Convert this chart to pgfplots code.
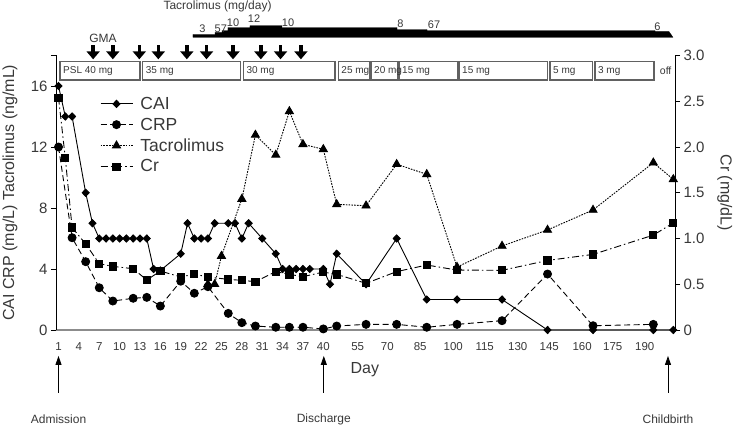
\documentclass[border=0pt]{standalone}
\usepackage{pgfplots}
\pgfplotsset{compat=1.18}
\usepackage{pgfplotstable}
\usetikzlibrary{arrows.meta}
\usepackage{fontspec}
\setmainfont{Liberation Sans}
\definecolor{txt}{gray}{0.22}
\definecolor{boxc}{gray}{0.38}

% u = plotting position (day-1 up to day 40, compressed afterwards), day, value
\pgfplotstableread{
u day v
0 1 16
1 2 14
2 3 14
4 5 9
5 6 7
6 7 6
7 8 6
8 9 6
9 10 6
10 11 6
11 12 6
12 13 6
13 14 6
14 15 4
15 16 3.9
18 19 5
19 20 7
20 21 6
21 22 6
22 23 6
23 24 7
25 26 7
26 27 7
27 28 6
28 29 7
30 31 6
32 33 5
33 34 4
34 35 4
35 36 4
36 37 4
37 38 4
39 40 4
39.98 43 3
40.97 46 5
45.29 60 3
49.80 74 6
54.23 87 2
58.69 101 2
65.32 122 2
72.02 143 0
78.72 164 0
87.60 191 0
90.54 201 0
}\caiTable

\pgfplotstableread{
u day v
0 1 12
2 3 6.05
4 5 4.48
6 7 2.77
8 9 1.9
11 12 2.08
13 14 2.14
15 16 1.57
18 19 3.2
20 21 2.41
22 23 2.84
25 26 1.09
27 28 0.48
29 30 0.26
32 33 0.18
34 35 0.18
36 37 0.18
39 40 0.07
40.97 46 0.26
45.29 60 0.37
49.80 74 0.37
54.23 87 0.18
58.69 101 0.37
65.32 122 0.61
72.02 143 3.67
78.72 164 0.28
87.60 191 0.37
}\crpTable

\pgfplotstableread{
u day v
22 23 3.0
23 24 3.0
24 25 4.85
27 28 8.59
29 30 12.79
32 33 11.48
34 35 14.34
36 37 12.18
39 40 11.85
40.97 46 8.24
45.29 60 8.15
49.80 74 10.87
54.23 87 10.21
58.69 101 4.13
65.32 122 5.51
72.02 143 6.56
78.72 164 7.87
87.60 191 10.97
90.54 201 9.88
}\tacTable

\pgfplotstableread{
u day v
0 1 2.54
1 2 1.88
2 3 1.12
4 5 0.94
6 7 0.725
8 9 0.695
11 12 0.67
13 14 0.546
15 16 0.644
18 19 0.58
20 21 0.61
22 23 0.58
25 26 0.553
27 28 0.543
29 30 0.528
32 33 0.638
34 35 0.608
36 37 0.583
39 40 0.633
40.97 46 0.608
45.29 60 0.51
49.80 74 0.638
54.23 87 0.71
58.69 101 0.655
65.32 122 0.652
72.02 143 0.76
78.72 164 0.826
87.60 191 1.037
90.54 201 1.17
}\crTable

\pgfplotsset{
  caistyle/.style={black, line width=0.9pt, solid, mark=diamond*, mark size=3.6pt, mark options={solid, fill=black, xscale=1.3}},
  crpstyle/.style={black, line width=0.9pt, dash pattern=on 6pt off 3.5pt, mark=*, mark size=4pt, mark options={solid, fill=black}},
  tacstyle/.style={black, line width=0.9pt, dash pattern=on 1.6pt off 1.2pt, mark=triangle*, mark size=4.6pt, mark options={solid, fill=black}},
  crstyle/.style={black, line width=0.9pt, dash pattern=on 7pt off 3pt on 1.5pt off 3pt, mark=square*, mark size=3.6pt, mark options={solid, fill=black}},
  dayx/.style={scale only axis, x=6.79pt, xmin=-0.37, xmax=90.8},
}

\begin{document}
\begin{tikzpicture}
\path[use as bounding box] (-56pt,-100pt) rectangle (679pt,330pt);

% ---------- main axis (left scale) ----------
\begin{axis}[
  dayx, at={(0pt,0pt)}, anchor=south west,
  y=15.25pt, ymin=0, ymax=18,
  axis x line=bottom, axis y line=left, separate axis lines,
  axis line style={-},
  x axis line style={-, draw=black!45, line width=2.2pt},
  y axis line style={-, draw=black, line width=0.8pt},
  xtick={0,3,6,9,12,15,18,21,24,27,30,33,36,39,44.06,48.42,53.27,58.13,62.77,67.63,72.27,77.12,81.63,86.33},
  xticklabels={1,4,7,10,13,16,19,22,25,28,31,34,37,40,55,70,85,100,115,130,145,160,175,190},
  xtick style={draw=none},
  xticklabel style={font=\fontsize{11.5}{13}\selectfont, text=txt, yshift=-4pt},
  ytick={0,4,8,12,16}, yticklabels={0,4,8,12,16},
  extra y ticks={18}, extra y tick labels={},
  ytick pos=left, tick align=outside, major tick length=5pt,
  ytick style={draw=black, line width=0.8pt},
  extra y tick style={ytick style={draw=black, line width=0.8pt}},
  yticklabel style={font=\fontsize{15}{17}\selectfont, text=txt},
  ylabel={CAI CRP (mg/L) Tacrolimus (ng/mL)},
  every axis y label/.style={at={(axis description cs:-0.0743,0.5)}, anchor=center, rotate=90, font=\fontsize{16}{18}\selectfont, text=txt},
  xlabel={Day},
  every axis x label/.style={at={(axis description cs:0.499,0)}, anchor=center, yshift=-40pt, font=\fontsize{16}{18}\selectfont, text=txt},
  clip=false,
  legend style={at={(axis description cs:0.066,0.862)}, anchor=north west, draw=none, fill=none,
     font=\fontsize{17.5}{19}\selectfont, text=txt, row sep=4pt, nodes={inner sep=1.5pt},
     /tikz/every odd column/.append style={column sep=6pt}},
  legend cell align=left,
  legend image code/.code={\draw[mark repeat=2, mark phase=2, #1] plot coordinates {(0pt,0pt) (16pt,0pt) (32pt,0pt)};},
]
\addplot[caistyle] table[x=u, y=v] {\caiTable};
\addlegendentry{CAI}
\addplot[crpstyle] table[x=u, y=v] {\crpTable};
\addlegendentry{CRP}
\addplot[tacstyle] table[x=u, y=v] {\tacTable};
\addlegendentry{Tacrolimus}
\addlegendimage{crstyle}
\addlegendentry{Cr}

% PSL dose boxes
\addplot[forget plot, draw=boxc, line width=1.3pt] coordinates {(0.22,16.39) (12.0,16.39) (12.0,17.59) (0.22,17.59)} --cycle;
\addplot[forget plot, draw=boxc, line width=1.3pt] coordinates {(12.4,16.39) (26.83,16.39) (26.83,17.59) (12.4,17.59)} --cycle;
\addplot[forget plot, draw=boxc, line width=1.3pt] coordinates {(27.22,16.39) (40.72,16.39) (40.72,17.59) (27.22,17.59)} --cycle;
\addplot[forget plot, draw=boxc, line width=1.3pt] coordinates {(41.2,16.39) (45.77,16.39) (45.77,17.59) (41.2,17.59)} --cycle;
\addplot[forget plot, draw=boxc, line width=1.3pt] coordinates {(46.02,16.39) (49.9,16.39) (49.9,17.59) (46.02,17.59)} --cycle;
\addplot[forget plot, draw=boxc, line width=1.3pt] coordinates {(50.15,16.39) (58.73,16.39) (58.73,17.59) (50.15,17.59)} --cycle;
\addplot[forget plot, draw=boxc, line width=1.3pt] coordinates {(58.98,16.39) (72.05,16.39) (72.05,17.59) (58.98,17.59)} --cycle;
\addplot[forget plot, draw=boxc, line width=1.3pt] coordinates {(72.39,16.39) (78.62,16.39) (78.62,17.59) (72.39,17.59)} --cycle;
\addplot[forget plot, draw=boxc, line width=1.3pt] coordinates {(79.0,16.39) (87.7,16.39) (87.7,17.59) (79.0,17.59)} --cycle;
\begin{scope}[every node/.style={anchor=west, inner sep=0pt, xshift=3pt, font=\fontsize{10}{12}\selectfont, text=txt}]
\node at (axis cs:0.22,16.99) {PSL 40 mg};
\node at (axis cs:12.4,16.99) {35 mg};
\node at (axis cs:27.22,16.99) {30 mg};
\node at (axis cs:41.2,16.99) {25 mg};
\node at (axis cs:46.02,16.99) {20 mg};
\node at (axis cs:50.15,16.99) {15 mg};
\node at (axis cs:58.98,16.99) {15 mg};
\node at (axis cs:72.39,16.99) {5 mg};
\node at (axis cs:79.0,16.99) {3 mg};
\node[xshift=0pt, font=\fontsize{10.5}{12}\selectfont] at (axis cs:88.1,16.99) {off};
\end{scope}

% GMA sessions
\pgfplotsinvokeforeach{5.1,8.0,11.9,14.7,18.9,21.8,25.7,29.8,32.7,35.7}{
  \draw[black, line width=3.6pt, -{Triangle[width=13pt,length=8pt]}] (axis cs:#1,18.68) -- (axis cs:#1,17.75);
}
\node[font=\fontsize{12}{14}\selectfont, text=txt] at (axis cs:6.55,19.1) {GMA};

% events
\pgfplotsinvokeforeach{0,39.07,89.76}{
  \draw[black, line width=0.9pt, -{Triangle[width=6pt,length=9pt]}] (axis cs:#1,-4.13) -- (axis cs:#1,-1.7);
}
\begin{scope}[every node/.style={font=\fontsize{12}{14}\selectfont, text=txt}]
\node at (axis cs:0,-5.84) {Admission};
\node at (axis cs:39.07,-5.84) {Discharge};
\node at (axis cs:89.76,-5.84) {Childbirth};
\end{scope}
\end{axis}

% ---------- right axis (Cr) ----------
\begin{axis}[
  dayx, at={(0pt,0pt)}, anchor=south west,
  y=91.5pt, ymin=0, ymax=3,
  axis x line=none, axis y line=right, separate axis lines,
  axis line style={-},
  y axis line style={-, draw=black, line width=0.8pt},
  ytick={0,0.5,1,1.5,2,2.5,3}, yticklabels={0,0.5,1.0,1.5,2.0,2.5,3.0},
  ytick pos=right, tick align=outside, major tick length=5pt,
  ytick style={draw=black, line width=0.8pt},
  yticklabel style={font=\fontsize{15}{17}\selectfont, text=txt},
  ylabel={Cr (mg/dL)},
  every axis y label/.style={at={(axis description cs:1.0804,0.5)}, anchor=center, rotate=-90, font=\fontsize{16}{18}\selectfont, text=txt},
  clip=false,
]
\addplot[crstyle] table[x=u, y=v] {\crTable};
\end{axis}

% ---------- tacrolimus dose bar ----------
\begin{axis}[
  dayx, at={(0pt,292.7pt)}, anchor=south west,
  y=0.97pt, ymin=0, ymax=13,
  hide axis, clip=false,
]
\addplot[fill=black, draw=black, line width=0.2pt] coordinates {
 (19.8,0) (19.8,3) (23.05,3) (23.05,5) (24.08,5) (24.08,7) (24.96,7) (24.96,10)
 (28.2,10) (28.2,12) (32.9,12) (32.9,10) (49.85,10) (49.85,8) (54.27,8) (54.27,7)
 (87.85,7) (87.85,6) (89.9,6) (90.5,0)} --cycle;
\begin{scope}[every node/.style={anchor=south, inner sep=0.5pt, font=\fontsize{11}{13}\selectfont, text=txt}]
\node at (axis cs:21.2,4) {3};
\node at (axis cs:23.9,4.6) {57};
\node at (axis cs:25.7,10.3) {10};
\node at (axis cs:28.8,14.6) {12};
\node at (axis cs:33.8,10.6) {10};
\node at (axis cs:50.37,9) {8};
\node at (axis cs:55.3,8) {67};
\node at (axis cs:88.2,6.6) {6};
\end{scope}
\node[font=\fontsize{12}{14}\selectfont, text=txt] at (axis cs:23.42,32.3) {Tacrolimus (mg/day)};
\end{axis}
\end{tikzpicture}
\end{document}
